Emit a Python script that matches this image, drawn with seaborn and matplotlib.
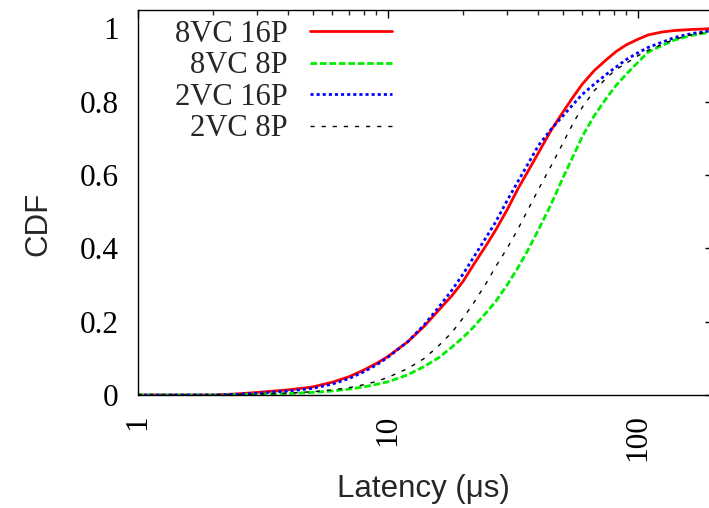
import numpy as np
import pandas as pd
import seaborn as sns
import matplotlib.pyplot as plt
from matplotlib.ticker import LogLocator, FixedLocator, NullFormatter

latency = [1, 2, 2.5, 3, 4, 5, 6, 7, 8, 9, 10, 12, 14, 16, 18, 20, 22, 25, 27, 30, 33, 36, 40,
           45, 50, 55, 60, 67, 75, 82, 90, 100, 110, 125, 140, 165, 200]

cdf_8vc_16p = [0, 0, 0.003, 0.007, 0.014, 0.022, 0.035, 0.05, 0.068, 0.086, 0.105, 0.145, 0.188,
               0.232, 0.27, 0.31, 0.355, 0.413, 0.45, 0.505, 0.56, 0.605, 0.66, 0.722, 0.77,
               0.812, 0.848, 0.885, 0.915, 0.937, 0.955, 0.97, 0.982, 0.99, 0.994, 0.997, 0.999]
cdf_8vc_8p = [0, 0, 0.001, 0.002, 0.004, 0.007, 0.011, 0.016, 0.022, 0.029, 0.036, 0.055, 0.078,
              0.102, 0.13, 0.157, 0.185, 0.228, 0.255, 0.3, 0.345, 0.39, 0.45, 0.52, 0.59,
              0.65, 0.705, 0.762, 0.81, 0.845, 0.875, 0.907, 0.935, 0.953, 0.968, 0.981, 0.991]
cdf_2vc_16p = [0, 0, 0.002, 0.005, 0.011, 0.018, 0.03, 0.045, 0.063, 0.082, 0.103, 0.145, 0.192,
               0.24, 0.285, 0.33, 0.375, 0.435, 0.472, 0.53, 0.58, 0.625, 0.68, 0.725, 0.76,
               0.792, 0.82, 0.848, 0.875, 0.895, 0.915, 0.933, 0.948, 0.962, 0.975, 0.986, 0.994]
cdf_2vc_8p = [0, 0, 0.001, 0.002, 0.005, 0.009, 0.014, 0.02, 0.028, 0.037, 0.048, 0.072, 0.1,
              0.135, 0.17, 0.21, 0.25, 0.31, 0.35, 0.4, 0.45, 0.5, 0.56, 0.625, 0.685,
              0.74, 0.785, 0.83, 0.865, 0.888, 0.905, 0.925, 0.94, 0.956, 0.97, 0.983, 0.992]

series = ["8VC 16P", "8VC 8P", "2VC 16P", "2VC 8P"]
values = [cdf_8vc_16p, cdf_8vc_8p, cdf_2vc_16p, cdf_2vc_8p]

rows = []
for name, vals in zip(series, values):
    for x, y in zip(latency, vals):
        rows.append([name, x, y])
df = pd.DataFrame(rows, columns=["config", "latency", "cdf"])

sns.set_style("white")
plt.rcParams["font.family"] = ["Liberation Serif", "DejaVu Serif"]

fig = plt.figure(figsize=(7.09, 5.08), dpi=100)
ax = fig.add_axes([138 / 709, 113 / 508, 575 / 709, 385 / 508])

palette = {"8VC 16P": "#ff0000", "8VC 8P": "#00ee00", "2VC 16P": "#0000ff", "2VC 8P": "#000000"}
dashes = {"8VC 16P": "", "8VC 8P": (2.4, 1), "2VC 16P": (1.1, 1.1), "2VC 8P": (3, 5)}
sizes = {"8VC 16P": 2.0, "8VC 8P": 2.0, "2VC 16P": 2.0, "2VC 8P": 1.0}

sns.lineplot(data=df, x="latency", y="cdf", hue="config", style="config", size="config",
             hue_order=series, style_order=series, size_order=series,
             palette=palette, dashes=dashes, sizes=sizes,
             estimator=None, sort=False, ax=ax)

ax.set_xscale("log")
ax.set_xlim(1, 200)
ax.set_ylim(0, 1.05)

ax.xaxis.set_major_locator(FixedLocator([1, 10, 100]))
ax.set_xticklabels(["1", "10", "100"], rotation=90)
ax.xaxis.set_minor_locator(LogLocator(base=10, subs=np.arange(2, 10)))
ax.xaxis.set_minor_formatter(NullFormatter())
ax.set_yticks([0, 0.2, 0.4, 0.6, 0.8, 1.0])
ax.set_yticklabels(["0", "0.2", "0.4", "0.6", "0.8", "1"])

ax.tick_params(axis="both", which="major", direction="in", length=6, width=1,
               top=True, right=True, labelsize=22.5, pad=14, colors="black")
ax.tick_params(axis="x", which="minor", direction="in", length=3.5, width=1, top=True)

for s in ax.spines.values():
    s.set_color("black")
    s.set_linewidth(1)

ax.set_xlabel("Latency (μs)", fontsize=22.5, family=["Liberation Sans", "DejaVu Sans"])
ax.set_ylabel("CDF", fontsize=22.5, family=["Liberation Sans", "DejaVu Sans"])
ax.xaxis.set_label_coords(0.497, -0.206)
ax.yaxis.set_label_coords(-0.148, 0.444)

leg = ax.legend(loc="upper right", bbox_to_anchor=(392 / 709, 1 - 20 / 508),
                bbox_transform=fig.transFigure, frameon=False, markerfirst=False,
                fontsize=22, handlelength=2.68, handletextpad=0.72, labelspacing=0.08,
                borderpad=0, borderaxespad=0)

fig.savefig("out.png", dpi=100)
